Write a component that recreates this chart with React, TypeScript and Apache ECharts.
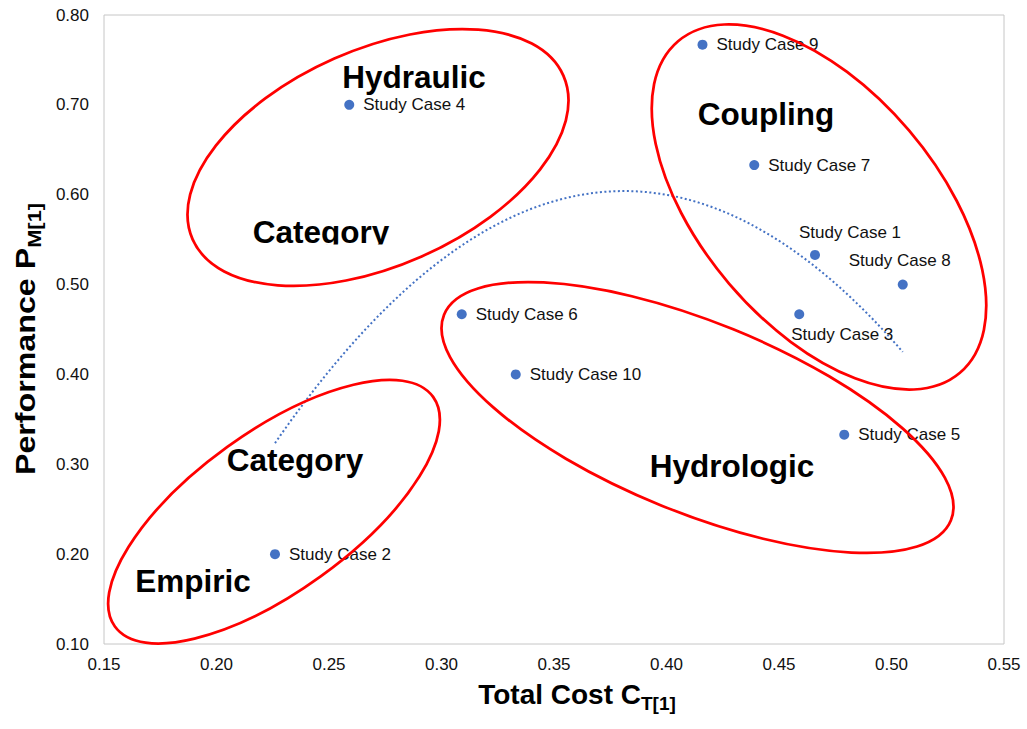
import React, { useEffect, useRef } from "react";
import * as echarts from "echarts";

// ---- data ----
const caseNames = [
  "Study Case 1",
  "Study Case 2",
  "Study Case 3",
  "Study Case 4",
  "Study Case 5",
  "Study Case 6",
  "Study Case 7",
  "Study Case 8",
  "Study Case 9",
  "Study Case 10",
];
const totalCost = [0.466, 0.226, 0.459, 0.259, 0.479, 0.309, 0.439, 0.505, 0.416, 0.333];
const performance = [0.533, 0.2, 0.467, 0.7, 0.333, 0.467, 0.633, 0.5, 0.767, 0.4];

const xMin = 0.15;
const xMax = 0.55;
const xStep = 0.05;
const yMin = 0.1;
const yMax = 0.8;
const yStep = 0.1;

const groupTitles = ["Hydraulic", "Category", "Coupling", "Hydrologic", "Category", "Empiric"];

// ---- layout / style (not data) ----
const FONT = 'Arial, "Liberation Sans", sans-serif';
const BLUE = "#4472C4";
const TEXT = "#111111";

const labelPlacement: Record<string, any> = {
  "Study Case 1": { position: "inside", offset: [35, -22] },
  "Study Case 8": { position: "inside", offset: [-3, -24] },
  "Study Case 3": { position: "inside", offset: [43, 20] },
};

const ellipses = [
  { cx: 378, cy: 157.5, a: 202.6, b: 108.1, deg: 23.8 },
  { cx: 819, cy: 207, a: 217.5, b: 118.1, deg: -49.6 },
  { cx: 697.5, cy: 417.5, a: 273.4, b: 95.1, deg: -22.1 },
  { cx: 274, cy: 511.7, a: 196.2, b: 79.8, deg: 35.8 },
];
const titlePos = [
  [414, 77],
  [321, 232],
  [766, 114],
  [732, 466],
  [295, 460],
  [193, 581],
];

// Excel-style polynomial (order 2) trendline, least squares on the data
function quadFit(xs: number[], ys: number[]) {
  let s0 = xs.length, s1 = 0, s2 = 0, s3 = 0, s4 = 0, t0 = 0, t1 = 0, t2 = 0;
  for (let i = 0; i < xs.length; i++) {
    const x = xs[i], y = ys[i];
    s1 += x; s2 += x * x; s3 += x * x * x; s4 += x * x * x * x;
    t0 += y; t1 += x * y; t2 += x * x * y;
  }
  const det = (m: number[][]) =>
    m[0][0] * (m[1][1] * m[2][2] - m[1][2] * m[2][1]) -
    m[0][1] * (m[1][0] * m[2][2] - m[1][2] * m[2][0]) +
    m[0][2] * (m[1][0] * m[2][1] - m[1][1] * m[2][0]);
  const M = [
    [s0, s1, s2],
    [s1, s2, s3],
    [s2, s3, s4],
  ];
  const T = [t0, t1, t2];
  const D = det(M);
  return [0, 1, 2].map((k) => {
    const Mk = M.map((row, r) => row.map((v, c) => (c === k ? T[r] : v)));
    return det(Mk) / D;
  });
}

export default function App() {
  const ref = useRef<HTMLDivElement>(null);

  useEffect(() => {
    if (!ref.current) return;
    const chart = echarts.init(ref.current, undefined, { renderer: "svg" });

    const [c0, c1, c2] = quadFit(totalCost, performance);
    const lo = Math.min(...totalCost);
    const hi = Math.max(...totalCost);
    const trend: number[][] = [];
    const N = 120;
    for (let i = 0; i <= N; i++) {
      const x = lo + ((hi - lo) * i) / N;
      trend.push([x, c0 + c1 * x + c2 * x * x]);
    }

    const points = caseNames.map((name, i) => {
      const item: any = { name, value: [totalCost[i], performance[i]] };
      if (labelPlacement[name]) item.label = labelPlacement[name];
      return item;
    });

    const graphics: any[] = [];
    ellipses.forEach((e) => {
      graphics.push({
        type: "ellipse",
        x: e.cx,
        y: e.cy,
        rotation: (e.deg * Math.PI) / 180,
        shape: { cx: 0, cy: 0, rx: e.a, ry: e.b },
        style: { fill: "none", stroke: "#FF0000", lineWidth: 2.75 },
        silent: true,
        z: 100,
      });
    });
    groupTitles.forEach((t, i) => {
      graphics.push({
        type: "text",
        x: titlePos[i][0],
        y: titlePos[i][1],
        style: {
          text: t,
          fontFamily: FONT,
          fontWeight: "bold",
          fontSize: 31.5,
          fill: "#000",
          align: "center",
          verticalAlign: "middle",
        },
        silent: true,
        z: 101,
      });
    });
    // the upper "Category" box cuts off its descenders in the original
    graphics.push({
      type: "rect",
      shape: { x: 248, y: 244.5, width: 148, height: 9 },
      style: { fill: "#ffffff" },
      silent: true,
      z: 102,
    });
    // axis titles
    graphics.push({
      type: "text",
      x: 577,
      y: 694,
      style: {
        text: "{a|Total Cost C}{b|T[1]}",
        align: "center",
        verticalAlign: "middle",
        rich: {
          a: { fontFamily: FONT, fontWeight: "bold", fontSize: 28, fill: "#000" },
          b: { fontFamily: FONT, fontWeight: "bold", fontSize: 19, fill: "#000", padding: [18, 0, 0, 0] },
        },
      },
      silent: true,
      z: 101,
    });
    graphics.push({
      type: "text",
      x: 25,
      y: 339,
      rotation: Math.PI / 2,
      scaleX: 1.15,
      style: {
        text: "{a|Performance P}{b|M[1]}",
        align: "center",
        verticalAlign: "middle",
        rich: {
          a: { fontFamily: FONT, fontWeight: "bold", fontSize: 28, fill: "#000" },
          b: { fontFamily: FONT, fontWeight: "bold", fontSize: 19, fill: "#000", padding: [18, 0, 0, 0] },
        },
      },
      silent: true,
      z: 101,
    });

    chart.setOption({
      animation: false,
      backgroundColor: "#ffffff",
      grid: {
        left: 104,
        right: 23,
        top: 15,
        bottom: 85,
        show: true,
        borderColor: "#c6c6c6",
        borderWidth: 1,
      },
      xAxis: {
        type: "value",
        min: xMin,
        max: xMax,
        interval: xStep,
        axisLine: { show: false },
        axisTick: { show: false },
        splitLine: { show: false },
        axisLabel: {
          fontSize: 17,
          fontFamily: FONT,
          color: TEXT,
          margin: 12,
          formatter: (v: number) => v.toFixed(2),
        },
      },
      yAxis: {
        type: "value",
        min: yMin,
        max: yMax,
        interval: yStep,
        axisLine: { show: false },
        axisTick: { show: false },
        splitLine: { show: false },
        axisLabel: {
          fontSize: 17,
          fontFamily: FONT,
          color: TEXT,
          margin: 15,
          formatter: (v: number) => v.toFixed(2),
        },
      },
      series: [
        {
          type: "line",
          data: trend,
          showSymbol: false,
          symbol: "none",
          silent: true,
          z: 1,
          lineStyle: { color: BLUE, width: 2, type: [2, 2.5] },
        },
        {
          type: "scatter",
          data: points,
          symbol: "circle",
          symbolSize: 10,
          itemStyle: { color: BLUE, opacity: 1 },
          z: 3,
          label: {
            show: true,
            formatter: "{b}",
            position: "right",
            distance: 9,
            fontSize: 17,
            fontFamily: FONT,
            color: TEXT,
          },
          emphasis: { disabled: true },
        },
      ],
      graphic: graphics,
    });

    return () => chart.dispose();
  }, []);

  return (
    <div
      ref={ref}
      style={{ position: "fixed", left: 0, top: 0, width: 1027, height: 729 }}
    />
  );
}
